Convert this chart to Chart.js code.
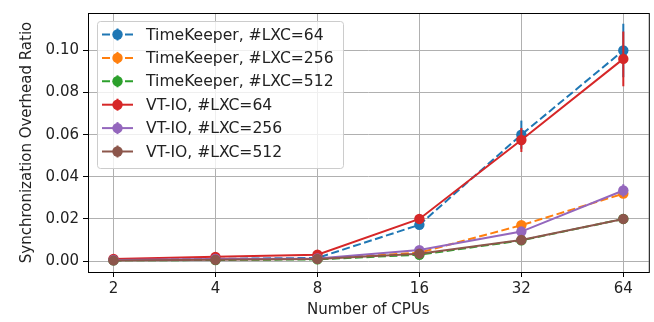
<!DOCTYPE html>
<html>
<head>
<meta charset="utf-8">
<script src="https://cdn.jsdelivr.net/npm/chart.js@4"></script>
<style>
  html, body { margin: 0; padding: 0; background: #fff; }
  #wrap { width: 654px; height: 322px; }
</style>
</head>
<body>
<div id="wrap"><canvas id="ohChart" width="654" height="322"></canvas></div>
<script>
// Number of CPUs (x axis, log2 spaced)
const cpus = [2, 4, 8, 16, 32, 64];
const yTicks = [0.00, 0.02, 0.04, 0.06, 0.08, 0.10];

// overhead ratios
const tk64  = [0.0005, 0.0010, 0.0015, 0.0172, 0.0600, 0.1000];
const tk256 = [0.0005, 0.0008, 0.0010, 0.0040, 0.0170, 0.0320];
const tk512 = [0.0003, 0.0005, 0.0008, 0.0030, 0.0098, 0.0200];
const vt64  = [0.0010, 0.0020, 0.0030, 0.0200, 0.0575, 0.0960];
const vt256 = [0.0005, 0.0010, 0.0012, 0.0052, 0.0140, 0.0335];
const vt512 = [0.0003, 0.0006, 0.0010, 0.0035, 0.0100, 0.0200];

// error bar half-widths
const tk64Err  = [0.0002, 0.0003, 0.0004, 0.0012, 0.0067, 0.0127];
const tk256Err = [0.0001, 0.0002, 0.0002, 0.0005, 0.0010, 0.0020];
const tk512Err = [0.0001, 0.0001, 0.0002, 0.0004, 0.0008, 0.0010];
const vt64Err  = [0.0002, 0.0004, 0.0005, 0.0020, 0.0057, 0.0130];
const vt256Err = [0.0001, 0.0002, 0.0002, 0.0006, 0.0012, 0.0030];
const vt512Err = [0.0001, 0.0001, 0.0002, 0.0004, 0.0008, 0.0010];

const labels = [
  'TimeKeeper, #LXC=64', 'TimeKeeper, #LXC=256', 'TimeKeeper, #LXC=512',
  'VT-IO, #LXC=64', 'VT-IO, #LXC=256', 'VT-IO, #LXC=512'
];
const colors = ['#1f77b4', '#ff7f0e', '#2ca02c', '#d62728', '#9467bd', '#8c564b'];
const series = [tk64, tk256, tk512, vt64, vt256, vt512];
const errs = [tk64Err, tk256Err, tk512Err, vt64Err, vt256Err, vt512Err];
const dashed = [true, true, true, false, false, false];

const FONT = "'DejaVu Sans', sans-serif";
const FS = 15;

const datasets = series.map((vals, i) => ({
  label: labels[i],
  data: vals.map((v, j) => ({ x: Math.log2(cpus[j]), y: v })),
  err: errs[i],
  borderColor: colors[i],
  backgroundColor: colors[i],
  borderWidth: 2,
  borderDash: dashed[i] ? [8, 3.5] : [],
  pointRadius: 5.2,
  pointBorderWidth: 0,
  pointHoverRadius: 5.2,
  tension: 0,
  order: series.length - i   // later series on top, like matplotlib
}));

// vertical error bars, drawn right before each series' line
const errorBars = {
  id: 'errorBars',
  beforeDatasetDraw(chart, args) {
    const ds = chart.data.datasets[args.index];
    const y = chart.scales.y;
    const ctx = chart.ctx;
    ctx.save();
    ctx.strokeStyle = ds.borderColor;
    ctx.lineWidth = 2;
    args.meta.data.forEach((pt, j) => {
      const v = ds.data[j].y, e = ds.err[j];
      ctx.beginPath();
      ctx.moveTo(pt.x, y.getPixelForValue(v - e));
      ctx.lineTo(pt.x, y.getPixelForValue(v + e));
      ctx.stroke();
    });
    ctx.restore();
  }
};

// matplotlib-style legend inside the plot, upper left
const insideLegend = {
  id: 'insideLegend',
  afterDraw(chart) {
    const ctx = chart.ctx;
    const area = chart.chartArea;
    const bx = area.left + 9, by = area.top + 8, bw = 246, bh = 147;
    ctx.save();
    ctx.fillStyle = 'rgba(255,255,255,0.8)';
    ctx.strokeStyle = '#cccccc';
    ctx.lineWidth = 1;
    ctx.beginPath();
    ctx.roundRect(bx + 0.5, by + 0.5, bw, bh, 3);
    ctx.fill();
    ctx.stroke();
    ctx.font = '15.6px ' + FONT;
    ctx.textBaseline = 'middle';
    chart.data.datasets.forEach((ds, i) => {
      const cy = by + 13.5 + i * 23.4;
      ctx.strokeStyle = ds.borderColor;
      ctx.lineWidth = 2;
      ctx.setLineDash(ds.borderDash);
      ctx.beginPath();
      ctx.moveTo(bx + 5, cy);
      ctx.lineTo(bx + 36, cy);
      ctx.stroke();
      ctx.setLineDash([]);
      ctx.beginPath();
      ctx.moveTo(bx + 20.5, cy - 6);
      ctx.lineTo(bx + 20.5, cy + 6);
      ctx.stroke();
      ctx.fillStyle = ds.borderColor;
      ctx.beginPath();
      ctx.arc(bx + 20.5, cy, 5.2, 0, Math.PI * 2);
      ctx.fill();
      ctx.fillStyle = '#222';
      ctx.fillText(ds.label, bx + 49, cy + 1);
    });
    ctx.restore();
  }
};

// black frame around the plot
const frame = {
  id: 'frame',
  afterDatasetsDraw(chart) {
    const a = chart.chartArea, ctx = chart.ctx;
    ctx.save();
    ctx.strokeStyle = '#000';
    ctx.lineWidth = 1;
    ctx.strokeRect(a.left + 0.5, a.top + 0.5, a.right - a.left, a.bottom - a.top);
    ctx.restore();
  }
};

const ctx = document.getElementById('ohChart').getContext('2d');
const ohChart = new Chart(ctx, {
  type: 'line',
  data: { datasets },
  plugins: [errorBars, frame, insideLegend],
  options: {
    responsive: false,
    animation: false,
    events: [],
    layout: { padding: { top: 10, right: 3, left: 0, bottom: 0 } },
    scales: {
      x: {
        type: 'linear',
        min: 0.75,
        max: 6.25,
        afterBuildTicks: axis => { axis.ticks = cpus.map(c => ({ value: Math.log2(c) })); },
        afterFit: axis => { axis.height = 50; },
        grid: { color: '#b0b0b0', lineWidth: 1, tickColor: '#000', tickLength: 5, drawOnChartArea: true },
        border: { display: false },
        ticks: {
          color: '#222', padding: 3, maxRotation: 0,
          font: { family: FONT, size: FS },
          callback: v => String(Math.round(Math.pow(2, v)))
        },
        title: {
          display: true, text: 'Number of CPUs', color: '#222',
          font: { family: FONT, size: FS }, padding: { top: 2, bottom: 3 }
        }
      },
      y: {
        min: -0.0052,
        max: 0.1178,
        afterBuildTicks: axis => { axis.ticks = yTicks.map(v => ({ value: v })); },
        afterFit: axis => { axis.width = 88; },
        grid: { color: '#b0b0b0', lineWidth: 1, tickColor: '#000', tickLength: 5 },
        border: { display: false },
        ticks: {
          color: '#222', padding: 4,
          font: { family: FONT, size: FS },
          callback: v => v.toFixed(2)
        },
        title: {
          display: true, text: 'Synchronization Overhead Ratio', color: '#222',
          font: { family: FONT, size: FS }, padding: { top: 18, bottom: 0 }
        }
      }
    },
    plugins: {
      legend: { display: false },
      tooltip: { enabled: false }
    }
  }
});
</script>
</body>
</html>
